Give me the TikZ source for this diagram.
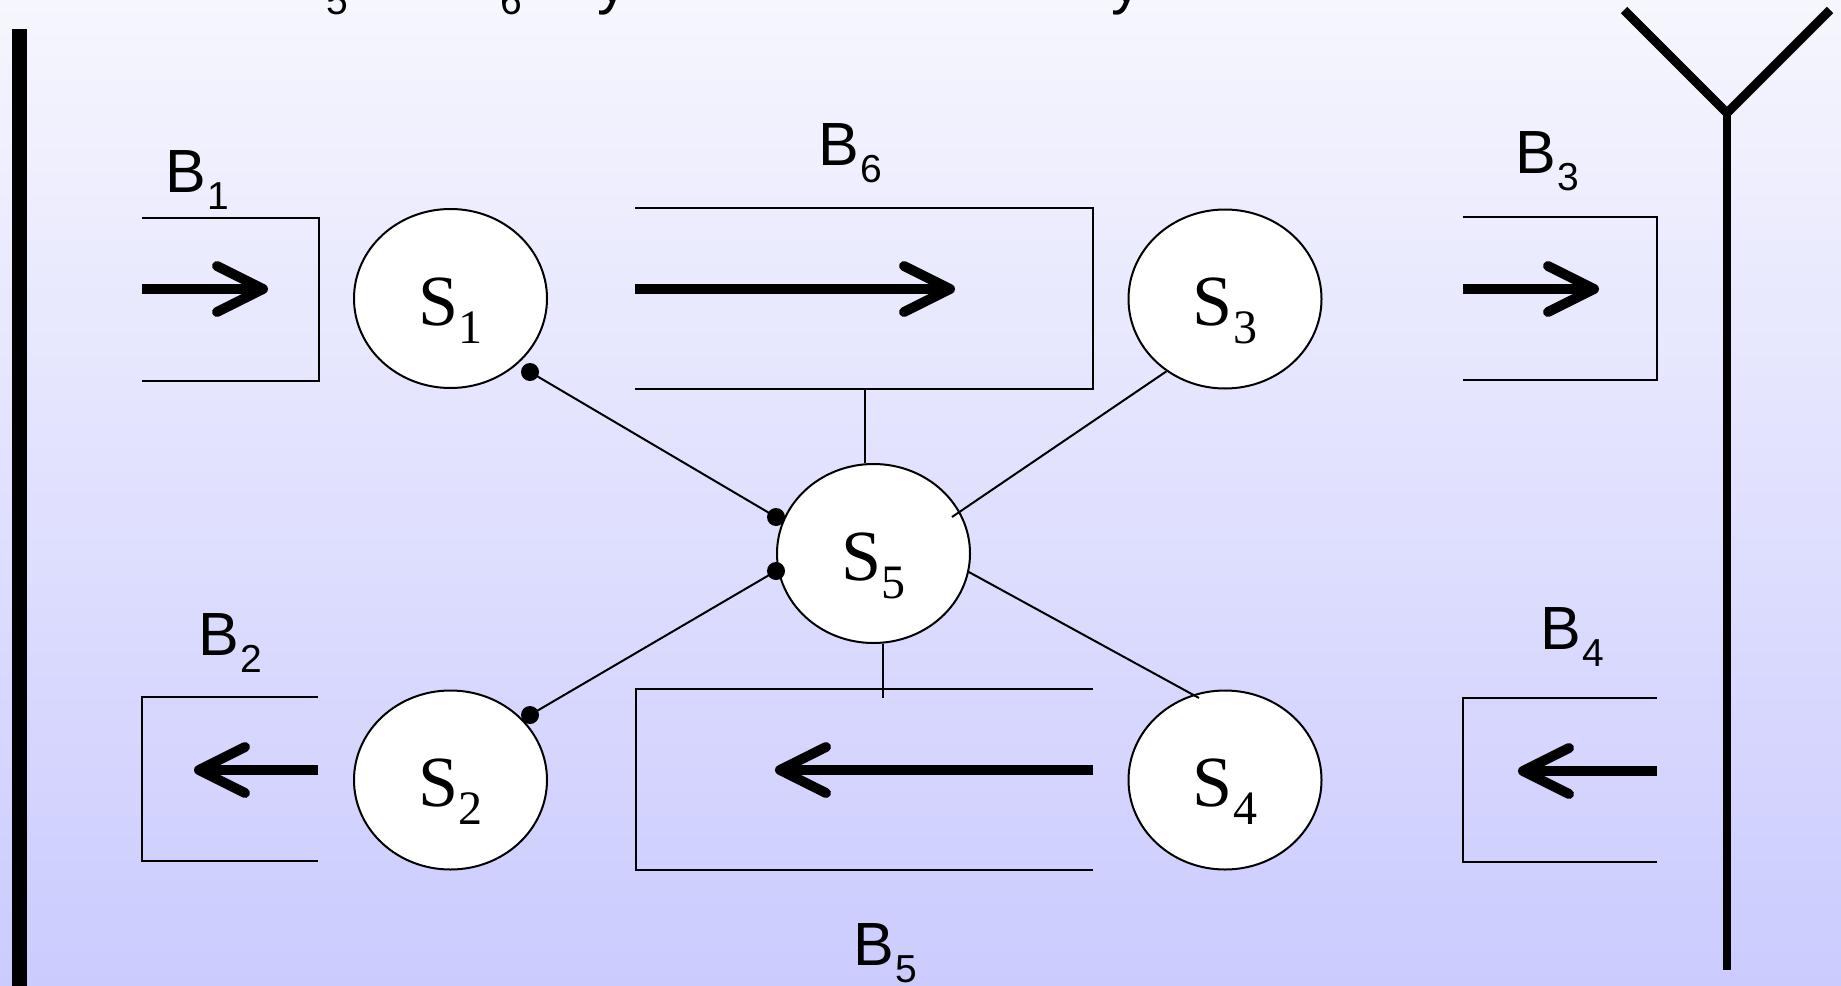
\documentclass[tikz,border=0pt]{standalone}
\usepackage{fontspec}
\setmainfont{Liberation Serif}
\newfontfamily\arialf{Liberation Sans}
\usetikzlibrary{shapes.geometric,calc}
\definecolor{bgtop}{RGB}{246,246,254}
\definecolor{bgbot}{RGB}{203,203,254}
\newcommand{\Blab}[1]{{\arialf\fontsize{61}{61}\selectfont B}\kern2pt\raisebox{-17pt}{\arialf\fontsize{39}{39}\selectfont #1}}
\newcommand{\Slab}[1]{{\fontsize{72}{72}\selectfont S}\raisebox{-18pt}{\fontsize{48}{48}\selectfont #1}}
\begin{document}
\begin{tikzpicture}[x=1pt,y=-1pt,
  thinline/.style={line width=2pt},
  station/.style={ellipse, draw, fill=white, line width=2pt, minimum width=193pt, minimum height=179pt, inner sep=0pt},
  slabel/.style={anchor=base, inner sep=0pt},
  blabel/.style={anchor=base west, inner sep=0pt},
  shaft/.style={line width=10pt, line cap=butt},
  head/.style={line width=10pt, line cap=round, line join=round},
  dot/.style={circle, fill=black, inner sep=0pt, minimum size=18pt},
  mast/.style={line width=9pt},
  frag/.style={anchor=base, inner sep=0pt}]
\clip (0,0) rectangle (1841,985);
\shade[top color=bgtop, bottom color=bgbot] (0,0) rectangle (1841,985);

% clipped fragments of a text line above the picture
\node[frag, font=\arialf\fontsize{39}{39}\selectfont] (f5) at (337,14) {5};
\node[frag, font=\arialf\fontsize{39}{39}\selectfont] (f6) at (511,14) {6};
\node[frag, font=\arialf\fontsize{61}{61}\selectfont] (fy1) at (613,2) {y};
\node[frag, font=\arialf\fontsize{61}{61}\selectfont] (fy2) at (1127,2) {y};

% left wall
\draw[line width=15pt] (19,29) -- (19,990);

% antenna
\coordinate (ajoint) at (1727,113);
\coordinate (aleft) at (1624,10);
\coordinate (aright) at (1830,10);
\coordinate (abot) at (1727,970);
\draw[mast] (aleft) -- (ajoint) -- (aright);
\draw[line width=8pt] (ajoint) -- (abot);

% buffers
\draw[thinline] (142,218) -- (319,218) -- (319,381) -- (142,381);
\draw[thinline] (635,208) -- (1093,208) -- (1093,389) -- (635,389);
\draw[thinline] (1463,217) -- (1657,217) -- (1657,380) -- (1463,380);
\draw[thinline] (318,697) -- (142,697) -- (142,861) -- (318,861);
\draw[thinline] (1093,689) -- (636,689) -- (636,870) -- (1093,870);
\draw[thinline] (1657,698) -- (1463,698) -- (1463,862) -- (1657,862);

% arrows
\coordinate (a1s) at (142,289); \coordinate (a1t) at (263,289);
\coordinate (a6s) at (635,289); \coordinate (a6t) at (950,289);
\coordinate (a3s) at (1463,289); \coordinate (a3t) at (1594,289);
\coordinate (a2s) at (318,770); \coordinate (a2t) at (199,770);
\coordinate (a5s) at (1093,770); \coordinate (a5t) at (780,770);
\coordinate (a4s) at (1657,771); \coordinate (a4t) at (1523,771);
\foreach \n in {1,6,3}{
  \draw[shaft] (a\n s) -- (a\n t);
  \draw[head] ($(a\n t)+(-46,-23)$) -- (a\n t) -- ($(a\n t)+(-46,23)$);
}
\foreach \n in {2,5,4}{
  \draw[shaft] (a\n s) -- (a\n t);
  \draw[head] ($(a\n t)+(46,-23)$) -- (a\n t) -- ($(a\n t)+(46,23)$);
}

% stations
\node[station] (S1) at (450.5,298.5) {};
\node[station] (S3) at (1225,299) {};
\node[station] (S2) at (450.5,780) {};
\node[station] (S4) at (1225,780) {};
\node[station] (S5) at (873.5,553.5) {};

% connectors
\coordinate (b6b) at (865,389);
\coordinate (b5t) at (883,698);
\draw[thinline] (b6b) -- (b6b |- S5.north);
\draw[thinline] (b5t |- S5.south) -- (b5t);
\node[dot] (d1) at (530,372) {};
\node[dot] (d2) at (530,715) {};
\node[dot] (d5a) at (776,517) {};
\node[dot] (d5b) at (776,571) {};
\draw[thinline] (d1.center) -- (d5a.center);
\draw[thinline] (d2.center) -- (d5b.center);
\coordinate (s5in) at (952,517);
\coordinate (s4in) at (1199,698);
\draw[thinline] (S3.231) -- (s5in);
\draw[thinline] (S5.-11) -- (s4in);

% station labels
\node[slabel] (L1) at (450.5,325) {\Slab{1}};
\node[slabel] (L3) at (1225,325.5) {\Slab{3}};
\node[slabel] (L2) at (450.5,806.5) {\Slab{2}};
\node[slabel] (L4) at (1225,806.5) {\Slab{4}};
\node[slabel] (L5) at (873.5,580) {\Slab{5}};

% buffer labels
\node[blabel] (B1) at (165,192) {\Blab{1}};
\node[blabel] (B6) at (818,165) {\Blab{6}};
\node[blabel] (B3) at (1515,173) {\Blab{3}};
\node[blabel] (B2) at (198,655) {\Blab{2}};
\node[blabel] (B4) at (1540,649) {\Blab{4}};
\node[blabel] (B5) at (853,965) {\Blab{5}};
\end{tikzpicture}
\end{document}
